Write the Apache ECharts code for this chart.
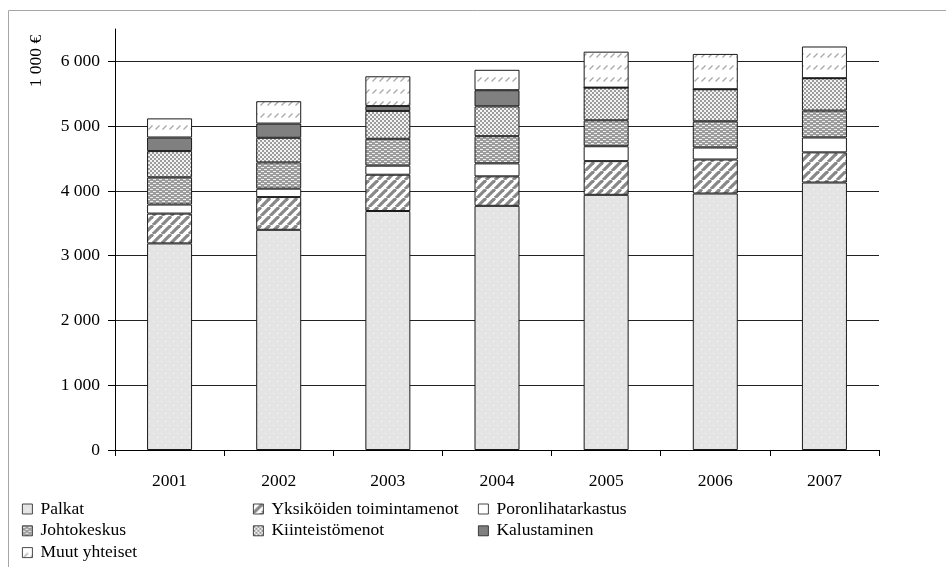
<!DOCTYPE html>
<html><head><meta charset="utf-8">
<script src="https://cdn.jsdelivr.net/npm/echarts@6/dist/echarts.min.js"></script>
<style>html,body{margin:0;padding:0;background:#fff}#c{width:946px;height:567px}</style>
</head><body><div id="c"></div>
<script>
// ---- data ----
const years = ['2001','2002','2003','2004','2005','2006','2007'];
const palkat        = [3190, 3400, 3690, 3770, 3940, 3960, 4130];
const yksikoiden    = [460, 505, 560, 455, 520, 525, 465];
const poronliha     = [140, 130, 140, 200, 230, 185, 230];
const johtokeskus   = [420, 405, 415, 420, 400, 405, 415];
const kiinteisto    = [405, 380, 430, 460, 505, 495, 500];
const kalustaminen  = [210, 220, 75, 250, 0, 0, 0];
const muut          = [295, 345, 460, 315, 555, 545, 490];
const yTicks = [0, 1000, 2000, 3000, 4000, 5000, 6000];
const seriesNames = ['Palkat','Yksiköiden toimintamenot','Poronlihatarkastus','Johtokeskus','Kiinteistömenot','Kalustaminen','Muut yhteiset'];
const seriesData = [palkat, yksikoiden, poronliha, johtokeskus, kiinteisto, kalustaminen, muut];

// ---- patterns ----
function tile(w, h, draw) {
  const c = document.createElement('canvas'); c.width = w; c.height = h;
  const ctx = c.getContext('2d'); draw(ctx, w, h); return {image: c, repeat: 'repeat'};
}
const pPalkat = tile(8, 8, (x) => { x.fillStyle = '#e4e4e4'; x.fillRect(0,0,8,8); x.fillStyle = '#fafafa'; x.fillRect(1,1,1,1); x.fillRect(5,5,1,1); });
const pYks = tile(9, 9, (x, w, h) => {
  x.fillStyle = '#fff'; x.fillRect(0,0,w,h);
  x.strokeStyle = '#888888'; x.lineWidth = 3.2;
  for (let o = -9; o <= 9; o += 9) { x.beginPath(); x.moveTo(o, h); x.lineTo(o + w, 0); x.stroke(); }
});
const pJoht = tile(6, 4, (x) => { x.fillStyle = '#9c9c9c'; x.fillRect(0,0,6,4); x.fillStyle = '#f0f0f0'; x.fillRect(0,1,3,1); x.fillRect(3,3,3,1); });
const pKiint = tile(4, 4, (x) => { x.fillStyle = '#f4f4f4'; x.fillRect(0,0,4,4); x.fillStyle = '#9c9c9c'; x.fillRect(0,0,2,2); x.fillRect(2,2,2,2); });
const pMuut = tile(7, 12, (x) => { x.fillStyle = '#fff'; x.fillRect(0,0,7,12); x.strokeStyle = '#a8a8a8'; x.lineWidth = 1.3; x.beginPath(); x.moveTo(1.5, 9.5); x.lineTo(5.5, 5.5); x.stroke(); });
const fills = [pPalkat, pYks, '#ffffff', pJoht, pKiint, '#808080', pMuut];

const FONT = 'Liberation Serif';
const chart = echarts.init(document.getElementById('c'), null, {renderer: 'canvas'});
const series = seriesNames.map((n, i) => ({
  name: n, type: 'bar', stack: 'tot', data: seriesData[i], barWidth: 45,
  itemStyle: {color: fills[i], borderColor: '#1a1a1a', borderWidth: 1},
  emphasis: {disabled: true}
}));
function legend(names, left) {
  return {
    data: names, orient: 'vertical', left: left, top: 500, height: 70, padding: 0,
    itemWidth: 10, itemHeight: 10,
    itemGap: 3.8, icon: 'rect', selectedMode: false,
    itemStyle: {borderWidth: 0.8, borderColor: '#1a1a1a'},
    textStyle: {fontFamily: FONT, fontSize: 17.5, color: '#000', lineHeight: 17, padding: [0,0,0,3]}
  };
}
chart.setOption({
  animation: false,
  textStyle: {fontFamily: FONT},
  grid: {left: 115, right: 67, top: 29, bottom: 117, containLabel: false},
  xAxis: {
    type: 'category', data: years,
    axisLine: {show: true, lineStyle: {color: '#000', width: 1}},
    axisTick: {show: true, length: 6, lineStyle: {color: '#000'}},
    axisLabel: {fontFamily: FONT, fontSize: 17.5, color: '#000', margin: 22}
  },
  yAxis: {
    type: 'value', min: 0, max: 6500, interval: 1000,
    axisLine: {show: true, lineStyle: {color: '#000', width: 1}},
    axisTick: {show: true, length: 7, lineStyle: {color: '#000'}, customValues: yTicks},
    axisLabel: {fontFamily: FONT, fontSize: 17.5, color: '#000', margin: 15, customValues: yTicks,
      formatter: (v) => v === 0 ? '0' : (v / 1000) + ' 000'},
    splitLine: {show: true, lineStyle: {color: ['#222','#222','#222','#222','#222','#222','#222','rgba(0,0,0,0)'], width: 1}}
  },
  legend: [
    legend(['Palkat','Johtokeskus','Muut yhteiset'], 22),
    legend(['Yksiköiden toimintamenot','Kiinteistömenot'], 253),
    legend(['Poronlihatarkastus','Kalustaminen'], 478)
  ],
  graphic: [
    {type: 'rect', shape: {x: 8.5, y: 10.5, width: 1000, height: 1000}, style: {fill: 'none', stroke: '#a6a6a6', lineWidth: 1}, silent: true},
    {type: 'text', x: 36, y: 61, rotation: Math.PI / 2, style: {text: '1 000 €', fontFamily: FONT, fontSize: 17.5, fill: '#000', align: 'center', verticalAlign: 'middle'}}
  ],
  series: series
});
</script></body></html>
